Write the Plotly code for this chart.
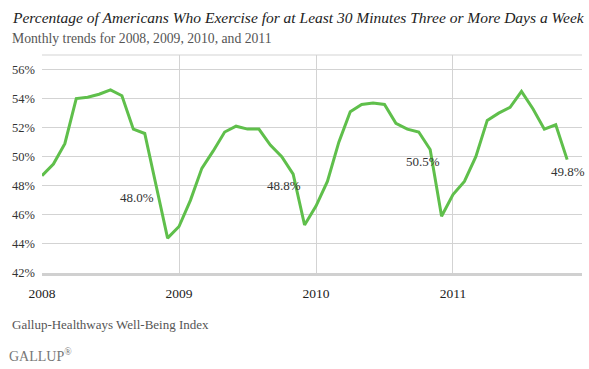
import plotly.graph_objects as go

months = [f"{y}-{m:02d}" for y in (2008, 2009, 2010, 2011) for m in range(1, 13)][:47]
values = [48.7, 49.5, 50.9, 54.0, 54.1, 54.3, 54.6, 54.2, 51.9, 51.6, 48.0, 44.4,
          45.2, 47.0, 49.2, 50.4, 51.7, 52.1, 51.9, 51.9, 50.8, 50.0, 48.8, 45.3,
          46.6, 48.3, 51.0, 53.1, 53.6, 53.7, 53.6, 52.3, 51.9, 51.7, 50.5, 45.9,
          47.4, 48.3, 50.0, 52.5, 53.0, 53.4, 54.5, 53.3, 51.9, 52.2, 49.8]
x_tickvals = ["2008-01", "2009-01", "2010-01", "2011-01"]
x_ticktext = ["2008", "2009", "2010", "2011"]
y_tickvals = [42, 44, 46, 48, 50, 52, 54, 56]
y_ticktext = ["42%", "44%", "46%", "48%", "50%", "52%", "54%", "56%"]
label_months = ["2008-11", "2009-11", "2010-11", "2011-11"]
label_text = ["48.0%", "48.8%", "50.5%", "49.8%"]
label_xshift = [-19, -9, -7, 1]
label_yshift = [-12, -11, -12, -12]

SERIF = "Liberation Serif, Georgia, serif"
fig = go.Figure()
fig.add_trace(go.Scatter(x=months, y=values, mode="lines",
                         line=dict(color="#5fbf4b", width=3), hoverinfo="skip"))

for m, t, dx, dy in zip(label_months, label_text, label_xshift, label_yshift):
    fig.add_annotation(x=m, y=values[months.index(m)], text=t, showarrow=False,
                       xshift=dx, yshift=dy, font=dict(family=SERIF, size=13, color="#333"))

fig.add_annotation(xref="paper", yref="paper", x=-32/540, y=1 + 38/218.5, xanchor="left", yanchor="middle",
                   text="<i>Percentage of Americans Who Exercise for at Least 30 Minutes Three or More Days a Week</i>",
                   showarrow=False, font=dict(family=SERIF, size=15.5, color="#222"))
fig.add_annotation(xref="paper", yref="paper", x=-32/540, y=1 + 17/218.5, xanchor="left", yanchor="middle",
                   text="Monthly trends for 2008, 2009, 2010, and 2011",
                   showarrow=False, font=dict(family=SERIF, size=13.7, color="#555"))
fig.add_annotation(xref="paper", yref="paper", x=-32/540, y=-(325-273.5)/218.5, xanchor="left", yanchor="middle",
                   text="Gallup-Healthways Well-Being Index",
                   showarrow=False, font=dict(family=SERIF, size=13, color="#555"))
fig.add_annotation(xref="paper", yref="paper", x=-35/540, y=-(356-273.5)/218.5, xanchor="left", yanchor="middle",
                   text="GALLUP<sup>®</sup>",
                   showarrow=False, font=dict(family=SERIF, size=14, color="#777"))

# top border of the plot area
fig.add_shape(type="line", xref="paper", yref="paper", x0=0, x1=1, y0=1, y1=1,
              line=dict(color="#d3d3d3", width=1), layer="below")

fig.update_layout(
    template="none",
    width=589, height=369,
    margin=dict(l=42, r=7, t=55, b=95.5),
    paper_bgcolor="white", plot_bgcolor="white",
    showlegend=False,
    font=dict(family=SERIF, size=12, color="#333"),
    xaxis=dict(type="category", range=[0, 47.3], tickvals=x_tickvals, ticktext=x_ticktext,
               showgrid=True, gridcolor="#d3d3d3", gridwidth=1,
               showline=True, linecolor="#d0d0d0", linewidth=3,
               ticks="", ticklabelstandoff=6, tickfont=dict(size=13.5, color="#222"),
               zeroline=False, fixedrange=True, automargin=False),
    yaxis=dict(range=[42, 57], tickvals=y_tickvals, ticktext=y_ticktext,
               showgrid=True, gridcolor="#d3d3d3", gridwidth=1,
               showline=False, ticks="", ticklabelstandoff=6,
               tickfont=dict(size=12.5, color="#333"), zeroline=False, fixedrange=True,
               automargin=False),
)
fig.write_html("out.html", config={"displayModeBar": False},
               post_script="document.body.style.margin='0';document.body.style.overflow='hidden';")
